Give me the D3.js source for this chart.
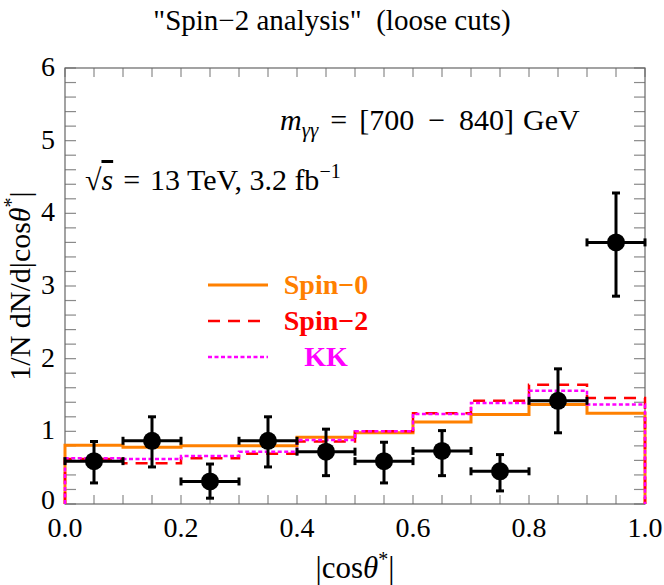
<!DOCTYPE html>
<html><head><meta charset="utf-8">
<script src="https://cdn.jsdelivr.net/npm/d3@7"></script>
<style>body{margin:0;background:#fff}svg{display:block}text{font-family:"Liberation Serif","Times New Roman",serif}</style>
</head><body>
<svg id="c" width="664" height="585"></svg>
<script>
const binEdges = [0,0.1,0.2,0.3,0.4,0.5,0.6,0.7,0.8,0.9,1.0];
const spin0 = [0.81,0.78,0.80,0.80,0.92,0.98,1.13,1.23,1.37,1.25];
const spin2 = [0.62,0.56,0.63,0.69,0.86,1.00,1.25,1.42,1.64,1.46];
const kk    = [0.63,0.62,0.66,0.72,0.88,1.00,1.24,1.39,1.56,1.37];
const dataX   = [0.05,0.15,0.25,0.35,0.45,0.55,0.65,0.75,0.85,0.95];
const dataY   = [0.59,0.87,0.31,0.87,0.72,0.59,0.73,0.45,1.42,3.60];
const dataLo  = [0.29,0.51,0.08,0.51,0.39,0.29,0.39,0.18,0.98,2.86];
const dataHi  = [0.86,1.20,0.55,1.20,1.03,0.85,1.01,0.68,1.86,4.28];
const xErr = 0.05;
const xTickLabels = ["0.0","0.2","0.4","0.6","0.8","1.0"];
const yTickLabels = ["0","1","2","3","4","5","6"];
const legendNames = ["Spin\u22120","Spin\u22122","KK"];

const W=664,H=585, L=65,R=645,T=68,B=504;
const svg=d3.select("#c");
const x=d3.scaleLinear().domain([0,1]).range([L,R]);
const y=d3.scaleLinear().domain([0,6]).range([B,T]);

// ticks (inside frame, all four sides)
const tickCol="#8a8a8a";
const xMinor=d3.range(0,1.0001,0.05), yMinor=d3.range(0,6.0001,0.2);
const g=svg.append("g").attr("stroke",tickCol).attr("stroke-width",1.2);
xMinor.forEach(v=>{
  g.append("line").attr("x1",x(v)).attr("x2",x(v)).attr("y1",B).attr("y2",B-9);
  g.append("line").attr("x1",x(v)).attr("x2",x(v)).attr("y1",T).attr("y2",T+9);
});
yMinor.forEach(v=>{
  g.append("line").attr("y1",y(v)).attr("y2",y(v)).attr("x1",L).attr("x2",L+11);
  g.append("line").attr("y1",y(v)).attr("y2",y(v)).attr("x1",R).attr("x2",R-11);
});
svg.append("rect").attr("x",L).attr("y",T).attr("width",R-L).attr("height",B-T).attr("fill","none").attr("stroke","#666").attr("stroke-width",1.2);

// tick labels
xTickLabels.forEach(t=>{
  svg.append("text").attr("x",x(+t)).attr("y",B+33).attr("text-anchor","middle").attr("font-size",28).text(t);
});
yTickLabels.forEach(t=>{
  svg.append("text").attr("x",L-10).attr("y",y(+t)+(t==="0"?5:8)).attr("text-anchor","end").attr("font-size",28).text(t);
});

// histograms
function stepPath(vals){
  const pts=[[0,0]];
  vals.forEach((v,i)=>{pts.push([binEdges[i],v]);pts.push([binEdges[i+1],v]);});
  pts.push([1,0]);
  return d3.line().x(d=>x(d[0])).y(d=>y(d[1]))(pts);
}
const series=[
  {vals:spin0,color:"#FF8000",w:3,dash:null},
  {vals:spin2,color:"#FF0000",w:2.5,dash:"12,8"},
  {vals:kk,color:"#FF00FF",w:2.5,dash:"4,2.5"}
];
series.forEach(s=>{
  svg.append("path").attr("d",stepPath(s.vals)).attr("fill","none").attr("stroke",s.color)
    .attr("stroke-width",s.w).attr("stroke-dasharray",s.dash);
});

// data points
const pg=svg.append("g").attr("stroke","#000").attr("stroke-width",3);
dataX.forEach((xv,i)=>{
  const cx=x(xv), cy=y(dataY[i]);
  pg.append("line").attr("x1",x(xv-xErr)).attr("x2",x(xv+xErr)).attr("y1",cy).attr("y2",cy);
  pg.append("line").attr("x1",x(xv-xErr)).attr("x2",x(xv-xErr)).attr("y1",cy-4).attr("y2",cy+4);
  pg.append("line").attr("x1",x(xv+xErr)).attr("x2",x(xv+xErr)).attr("y1",cy-4).attr("y2",cy+4);
  pg.append("line").attr("x1",cx).attr("x2",cx).attr("y1",y(dataLo[i])).attr("y2",y(dataHi[i]));
  pg.append("line").attr("x1",cx-4).attr("x2",cx+4).attr("y1",y(dataLo[i])).attr("y2",y(dataLo[i]));
  pg.append("line").attr("x1",cx-4).attr("x2",cx+4).attr("y1",y(dataHi[i])).attr("y2",y(dataHi[i]));
  svg.append("circle").attr("cx",cx).attr("cy",cy).attr("r",9).attr("fill","#000");
});

// legend
const legY=[285,321,357];
series.forEach((s,i)=>{
  svg.append("line").attr("x1",208).attr("x2",268).attr("y1",legY[i]).attr("y2",legY[i])
    .attr("stroke",s.color).attr("stroke-width",s.w).attr("stroke-dasharray",s.dash);
  svg.append("text").attr("x",326).attr("y",legY[i]+9).attr("text-anchor","middle")
    .attr("font-size",28).attr("font-weight","bold").attr("fill",s.color).text(legendNames[i]);
});

// title
svg.append("text").attr("x",332).attr("y",30).attr("text-anchor","middle").attr("font-size",29)
  .text("\"Spin\u22122 analysis\"\u00a0\u00a0(loose cuts)");

// annotations
const a1=svg.append("text").attr("x",280).attr("y",130).attr("font-size",30);
a1.append("tspan").attr("font-style","italic").text("m");
a1.append("tspan").attr("font-style","italic").attr("font-size",21).attr("dy",7).text("\u03b3\u03b3");
a1.append("tspan").attr("dy",-7).attr("dx",12).text("=");
a1.append("tspan").attr("dx",12).text("[700");
a1.append("tspan").attr("dx",14).text("\u2212");
a1.append("tspan").attr("dx",14).text("840]");
a1.append("tspan").attr("dx",9).text("GeV");

const a2=svg.append("text").attr("x",85).attr("y",190).attr("font-size",30);
a2.append("tspan").text("\u221a");
a2.append("tspan").attr("font-style","italic").attr("text-decoration","overline").text("s");
a2.append("tspan").attr("dx",10).text("=");
a2.append("tspan").attr("dx",10).text("13 TeV, 3.2 fb");
a2.append("tspan").attr("font-size",20).attr("dy",-12).text("\u22121");

// axis labels
svg.append("text").attr("x",355).attr("y",578).attr("text-anchor","middle").attr("font-size",31)
  .html("|cos<tspan font-style='italic'>\u03b8</tspan><tspan font-size='20' dy='-12'>*</tspan><tspan dy='12'>|</tspan>");
svg.append("text").attr("transform","translate(30,"+((T+B)/2)+") rotate(-90)").attr("text-anchor","middle").attr("font-size",30)
  .html("1/N dN/d|cos<tspan font-style='italic'>\u03b8</tspan><tspan font-size='20' dy='-12'>*</tspan><tspan dy='12'>|</tspan>");
</script>
</body></html>
